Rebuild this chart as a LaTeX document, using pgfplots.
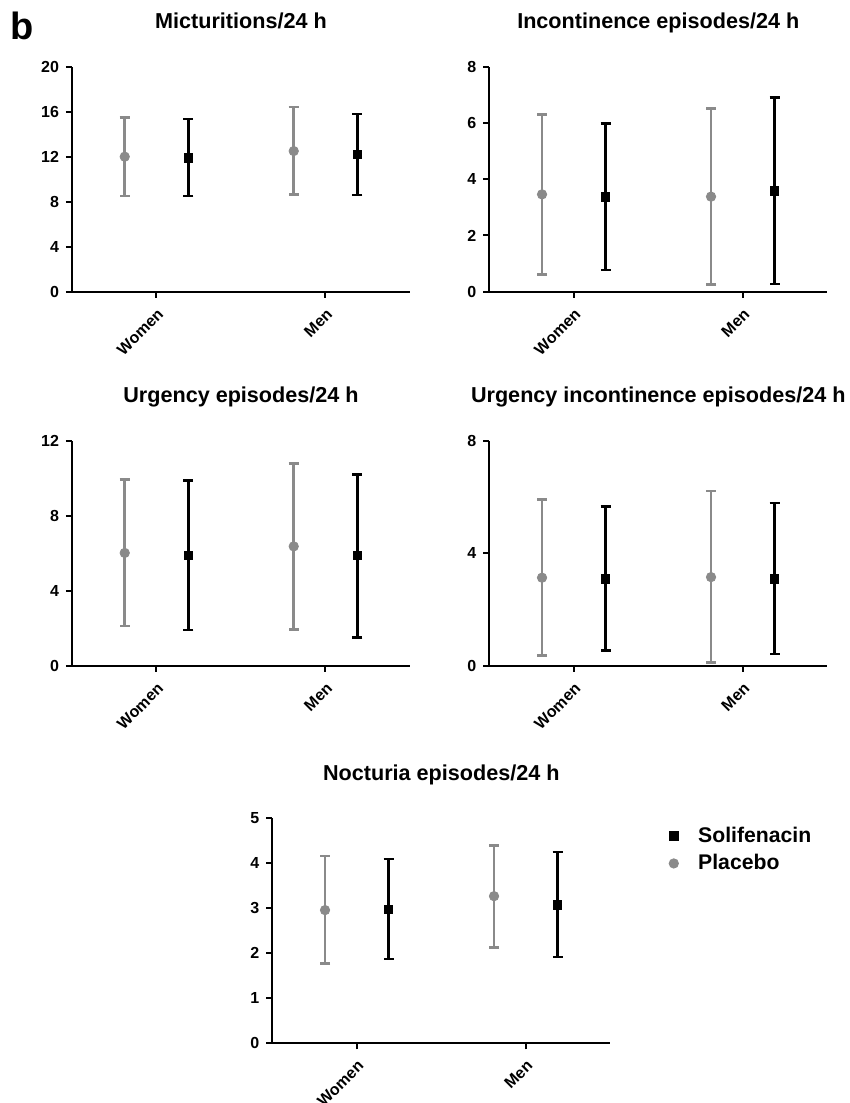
\documentclass[border=0pt]{standalone}
\usepackage{fontspec}
\setmainfont{Liberation Sans}
\usepackage{pgfplots}
\pgfplotsset{compat=1.18}
\definecolor{pgray}{HTML}{8A8A8A}
\pgfplotsset{
  panel/.style={
    scale only axis, width=169pt, height=112.5pt, anchor=south west,
    xmin=-0.5, xmax=1.5, ymin=0,
    axis x line*=bottom, axis y line*=left,
    axis line style={line width=1pt, -},
    xtick={0,1}, xticklabels={Women,Men},
    tick align=outside, major tick length=3pt,
    tick style={line width=1pt, black},
    minor tick num=0,
    /pgf/number format/assume math mode=true,
    ticklabel style={font=\fontsize{8}{9.6}\selectfont\bfseries},
    x tick label style={rotate=45, anchor=north east},
    title style={font=\fontsize{10.8}{13}\selectfont\bfseries, anchor=base, yshift=13pt},
    clip=false,
  },
  plac/.style={only marks, mark=*, mark size=2.35pt, color=pgray,
    mark options={fill=pgray, draw=pgray},
    error bars/.cd, y dir=both, y explicit,
    error bar style={line width=1.3pt, pgray},
    error mark options={rotate=90, mark size=2.5pt, line width=1.3pt, pgray}},
  soli/.style={only marks, mark=square*, mark size=2.15pt, color=black,
    mark options={fill=black, draw=black},
    error bars/.cd, y dir=both, y explicit,
    error bar style={line width=1.3pt, black},
    error mark options={rotate=90, mark size=2.5pt, line width=1.3pt, black}},
}
\begin{document}
\begin{tikzpicture}
\useasboundingbox (0,0) rectangle (425pt,551.5pt);
\node[anchor=base west, inner sep=0pt, font=\fontsize{19}{22}\selectfont\bfseries] at (5pt,531.5pt) {b};

% Panel 1
\begin{axis}[panel, at={(36pt,405.65pt)}, ymax=20, ytick={0,4,8,12,16,20},
  title={Micturitions/24 h}]
\addplot[plac] coordinates {(-0.188,12.0) += (0,3.47) -= (0,3.5) (0.812,12.5) += (0,3.9) -= (0,3.85)};
\addplot[soli] coordinates {(0.188,11.9) += (0,3.45) -= (0,3.4) (1.188,12.2) += (0,3.6) -= (0,3.6)};
\end{axis}

% Panel 2
\begin{axis}[panel, at={(244.65pt,405.65pt)}, ymax=8, ytick={0,2,4,6,8},
  title={Incontinence episodes/24 h}]
\addplot[plac] coordinates {(-0.188,3.46) += (0,2.85) -= (0,2.84) (0.812,3.38) += (0,3.13) -= (0,3.12)};
\addplot[soli] coordinates {(0.188,3.38) += (0,2.61) -= (0,2.61) (1.188,3.59) += (0,3.32) -= (0,3.32)};
\end{axis}

% Panel 3
\begin{axis}[panel, at={(36pt,218.5pt)}, ymax=12, ytick={0,4,8,12},
  title={Urgency episodes/24 h}]
\addplot[plac] coordinates {(-0.188,6.03) += (0,3.92) -= (0,3.89) (0.812,6.38) += (0,4.43) -= (0,4.42)};
\addplot[soli] coordinates {(0.188,5.90) += (0,4.0) -= (0,3.97) (1.188,5.90) += (0,4.32) -= (0,4.37)};
\end{axis}

% Panel 4
\begin{axis}[panel, at={(244.65pt,218.5pt)}, ymax=8, ytick={0,4,8},
  title={Urgency incontinence episodes/24 h}]
\addplot[plac] coordinates {(-0.188,3.14) += (0,2.78) -= (0,2.76) (0.812,3.16) += (0,3.06) -= (0,3.04)};
\addplot[soli] coordinates {(0.188,3.10) += (0,2.58) -= (0,2.55) (1.188,3.09) += (0,2.71) -= (0,2.67)};
\end{axis}

% Panel 5
\begin{axis}[panel, at={(136.15pt,29.85pt)}, ymax=5, ytick={0,1,2,3,4,5},
  title={Nocturia episodes/24 h},
  legend image code/.code={\draw[#1] plot coordinates {(0pt,0pt)}; \path (-3pt,0pt) (10pt,0pt);},
  legend style={draw=none, fill=none, at={(axis description cs:1.15,1.0)}, anchor=north west,
    font=\fontsize{10.6}{12}\selectfont\bfseries, row sep=0.6pt, cells={anchor=west}}]
\addplot[soli] coordinates {(0.188,2.98) += (0,1.12) -= (0,1.11) (1.188,3.08) += (0,1.17) -= (0,1.16)};
\addlegendentry{Solifenacin}
\addplot[plac] coordinates {(-0.188,2.96) += (0,1.2) -= (0,1.18) (0.812,3.27) += (0,1.13) -= (0,1.14)};
\addlegendentry{Placebo}
\end{axis}
\end{tikzpicture}
\end{document}
